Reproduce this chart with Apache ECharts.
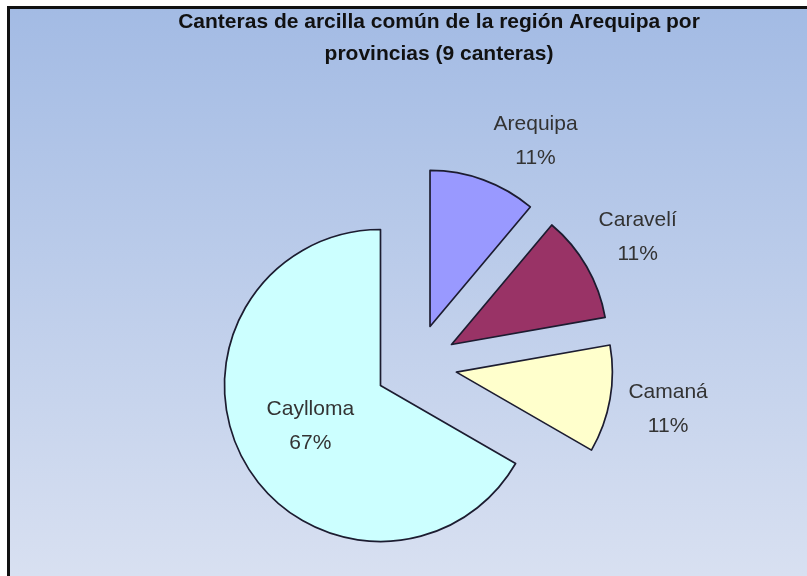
<!DOCTYPE html>
<html>
<head>
<meta charset="utf-8">
<script src="https://cdn.jsdelivr.net/npm/echarts@6/dist/echarts.min.js"></script>
<style>
  html, body { margin: 0; padding: 0; background: #fff; }
  #frame {
    position: absolute; left: 7px; top: 6px;
    width: 800px; height: 567px;
    border-left: 3px solid #111;
    border-top: 3px solid #111;
    border-bottom: 2px solid #888;
  }
  #chart { width: 800px; height: 567px; }
</style>
</head>
<body>
<div id="frame"><div id="chart"></div></div>
<script>
const titleLines = ['Canteras de arcilla común de la región Arequipa por', 'provincias (9 canteras)']
const provinces = ['Arequipa', 'Caravelí', 'Camaná', 'Caylloma']
const quarries = [1, 1, 1, 6]
const sliceColors = ['#9999FF', '#993366', '#FFFFCC', '#CCFFFF']

const chart = echarts.init(document.getElementById('chart'))

const center = [406, 356]
const radius = 156

const sliceData = provinces.map((name, i) => ({
  name,
  value: quarries[i],
  selected: true,
  itemStyle: { color: sliceColors[i] },
  label: { show: name === 'Caylloma' }
}))

// transparent ring only carries the outside labels
const labelData = provinces.map((name, i) => ({
  name,
  value: quarries[i],
  label: name === 'Arequipa'
    ? { formatter: '\n{b}\n{d}%', padding: [0, 0, 0, 64] }
    : { show: name !== 'Caylloma', padding: [6, 0, 0, 0] }
}))

const labelText = {
  formatter: '{b}\n{d}%',
  fontFamily: 'Liberation Sans, Arial, sans-serif',
  fontSize: 21,
  lineHeight: 34,
  color: '#333'
}

chart.setOption({
  animation: false,
  backgroundColor: {
    type: 'linear', x: 0, y: 0, x2: 0, y2: 1,
    colorStops: [
      { offset: 0, color: '#A3BBE4' },
      { offset: 1, color: '#D8E0F1' }
    ]
  },
  title: {
    text: titleLines.join('\n'),
    left: 424,
    textAlign: 'center',
    top: -8,
    textStyle: {
      fontFamily: 'Liberation Sans, Arial, sans-serif',
      fontWeight: 'bold',
      fontSize: 21,
      lineHeight: 32,
      color: '#111'
    }
  },
  series: [
    {
      type: 'pie',
      center,
      radius,
      startAngle: 90,
      clockwise: true,
      percentPrecision: 0,
      selectedMode: 'multiple',
      selectedOffset: 41,
      avoidLabelOverlap: false,
      itemStyle: { borderColor: '#1c1c30', borderWidth: 1.7 },
      select: { itemStyle: { borderColor: '#1c1c30', borderWidth: 1.7 } },
      emphasis: { disabled: true },
      label: Object.assign({ position: 'inside' }, labelText),
      labelLine: { show: false },
      data: sliceData
    },
    {
      type: 'pie',
      center,
      radius: [0, 506],
      startAngle: 90,
      clockwise: true,
      percentPrecision: 0,
      silent: true,
      avoidLabelOverlap: false,
      itemStyle: { color: 'rgba(0,0,0,0)', borderWidth: 0 },
      emphasis: { disabled: true },
      label: Object.assign({ position: 'inside' }, labelText),
      labelLine: { show: false },
      data: labelData
    }
  ]
})
</script>
</body>
</html>
